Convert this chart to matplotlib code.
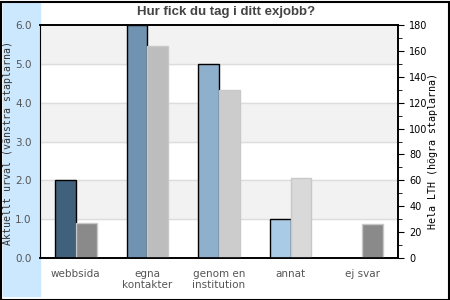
import matplotlib.pyplot as plt
import matplotlib.patches as mpatches
import numpy as np

categories = ['webbsida', 'egna\nkontakter', 'genom en\ninstitution', 'annat', 'ej svar']
urval = [2, 6, 5, 1, 0]
hela_lth = [27, 164, 130, 62, 26]
left_colors = ['#41607c', '#6f93b0', '#8fb0cc', '#aacbe6', '#c8dff2']
right_colors = ['#8a8a8a', '#bdbdbd', '#cccccc', '#d9d9d9', '#8a8a8a']

fig = plt.figure(figsize=(4.5, 3), dpi=100)
fig.patches.append(mpatches.Rectangle((3/450, 4/300), 37/450, 293/300,
                                      transform=fig.transFigure, color='#cce8ff', zorder=-5))
fig.patches.append(mpatches.Rectangle((0.5/450, 0.5/300), 448.5/450, 298/300, transform=fig.transFigure,
                                      fill=False, edgecolor='black', lw=1.5, zorder=5))

ax = fig.add_axes([40/450, 42/300, 358/450, 233/300])
ax.patch.set_alpha(0)
ax2 = ax.twinx()

x = np.arange(len(categories))
w = 0.29
# banded background
for lo in [1, 3, 5]:
    ax.axhspan(lo, lo + 1, color='#f2f2f2', zorder=0)
for y in range(1, 6):
    ax.axhline(y, color='#dddddd', lw=1, zorder=0.5)
ax.set_zorder(1)
ax2.set_zorder(2)
ax2.patch.set_alpha(0)

for i in range(len(categories)):
    if urval[i] > 0:
        ax2.bar(x[i] - w / 2, urval[i] * 30, w, color=left_colors[i], edgecolor='black', lw=1, zorder=2)
    ax2.bar(x[i] + w / 2, hela_lth[i], w, color=right_colors[i], edgecolor='#c8c8c8', lw=1, zorder=2)

ax.set_xlim(-0.5, 4.5)
ax.set_ylim(0, 6)
ax2.set_ylim(0, 180)
ax.set_yticks(np.arange(0, 7, 1))
ax.set_yticklabels([f'{v:.1f}' for v in range(7)], color='#555555', fontsize=7.5)
ax.tick_params(axis='y', length=0, pad=6)
ax.set_xticks(x)
ax.set_xticklabels(categories, color='#555555', fontsize=7.5, linespacing=1.1)
ax.tick_params(axis='x', length=0, pad=8)

ax2.set_yticks(np.arange(0, 181, 20))
ax2.set_yticks(np.arange(10, 180, 20), minor=True)
ax2.tick_params(axis='y', which='major', length=4, labelsize=7, pad=4)
ax2.tick_params(axis='y', which='minor', length=3)

for a in (ax, ax2):
    a.spines['left'].set_visible(False)
    for s in ['top', 'bottom', 'right']:
        a.spines[s].set_linewidth(1.2)
ax.spines['left'].set_visible(True)

fig.text(8/450, 1 - 143/300, 'Aktuellt urval (vänstra staplarna)', family='DejaVu Sans Mono',
         fontsize=7.1, color='#333333', rotation=90, ha='center', va='center')
fig.text(433/450, 1 - 151/300, 'Hela LTH (högra staplarna)', family='DejaVu Sans Mono',
         fontsize=7.2, color='black', rotation=90, ha='center', va='center')
fig.text(226/450, 1 - 12/300, 'Hur fick du tag i ditt exjobb?', family='Liberation Sans',
         fontsize=9.5, fontweight='bold', color='#444444', ha='center', va='center')

fig.savefig('out.png', dpi=100)
